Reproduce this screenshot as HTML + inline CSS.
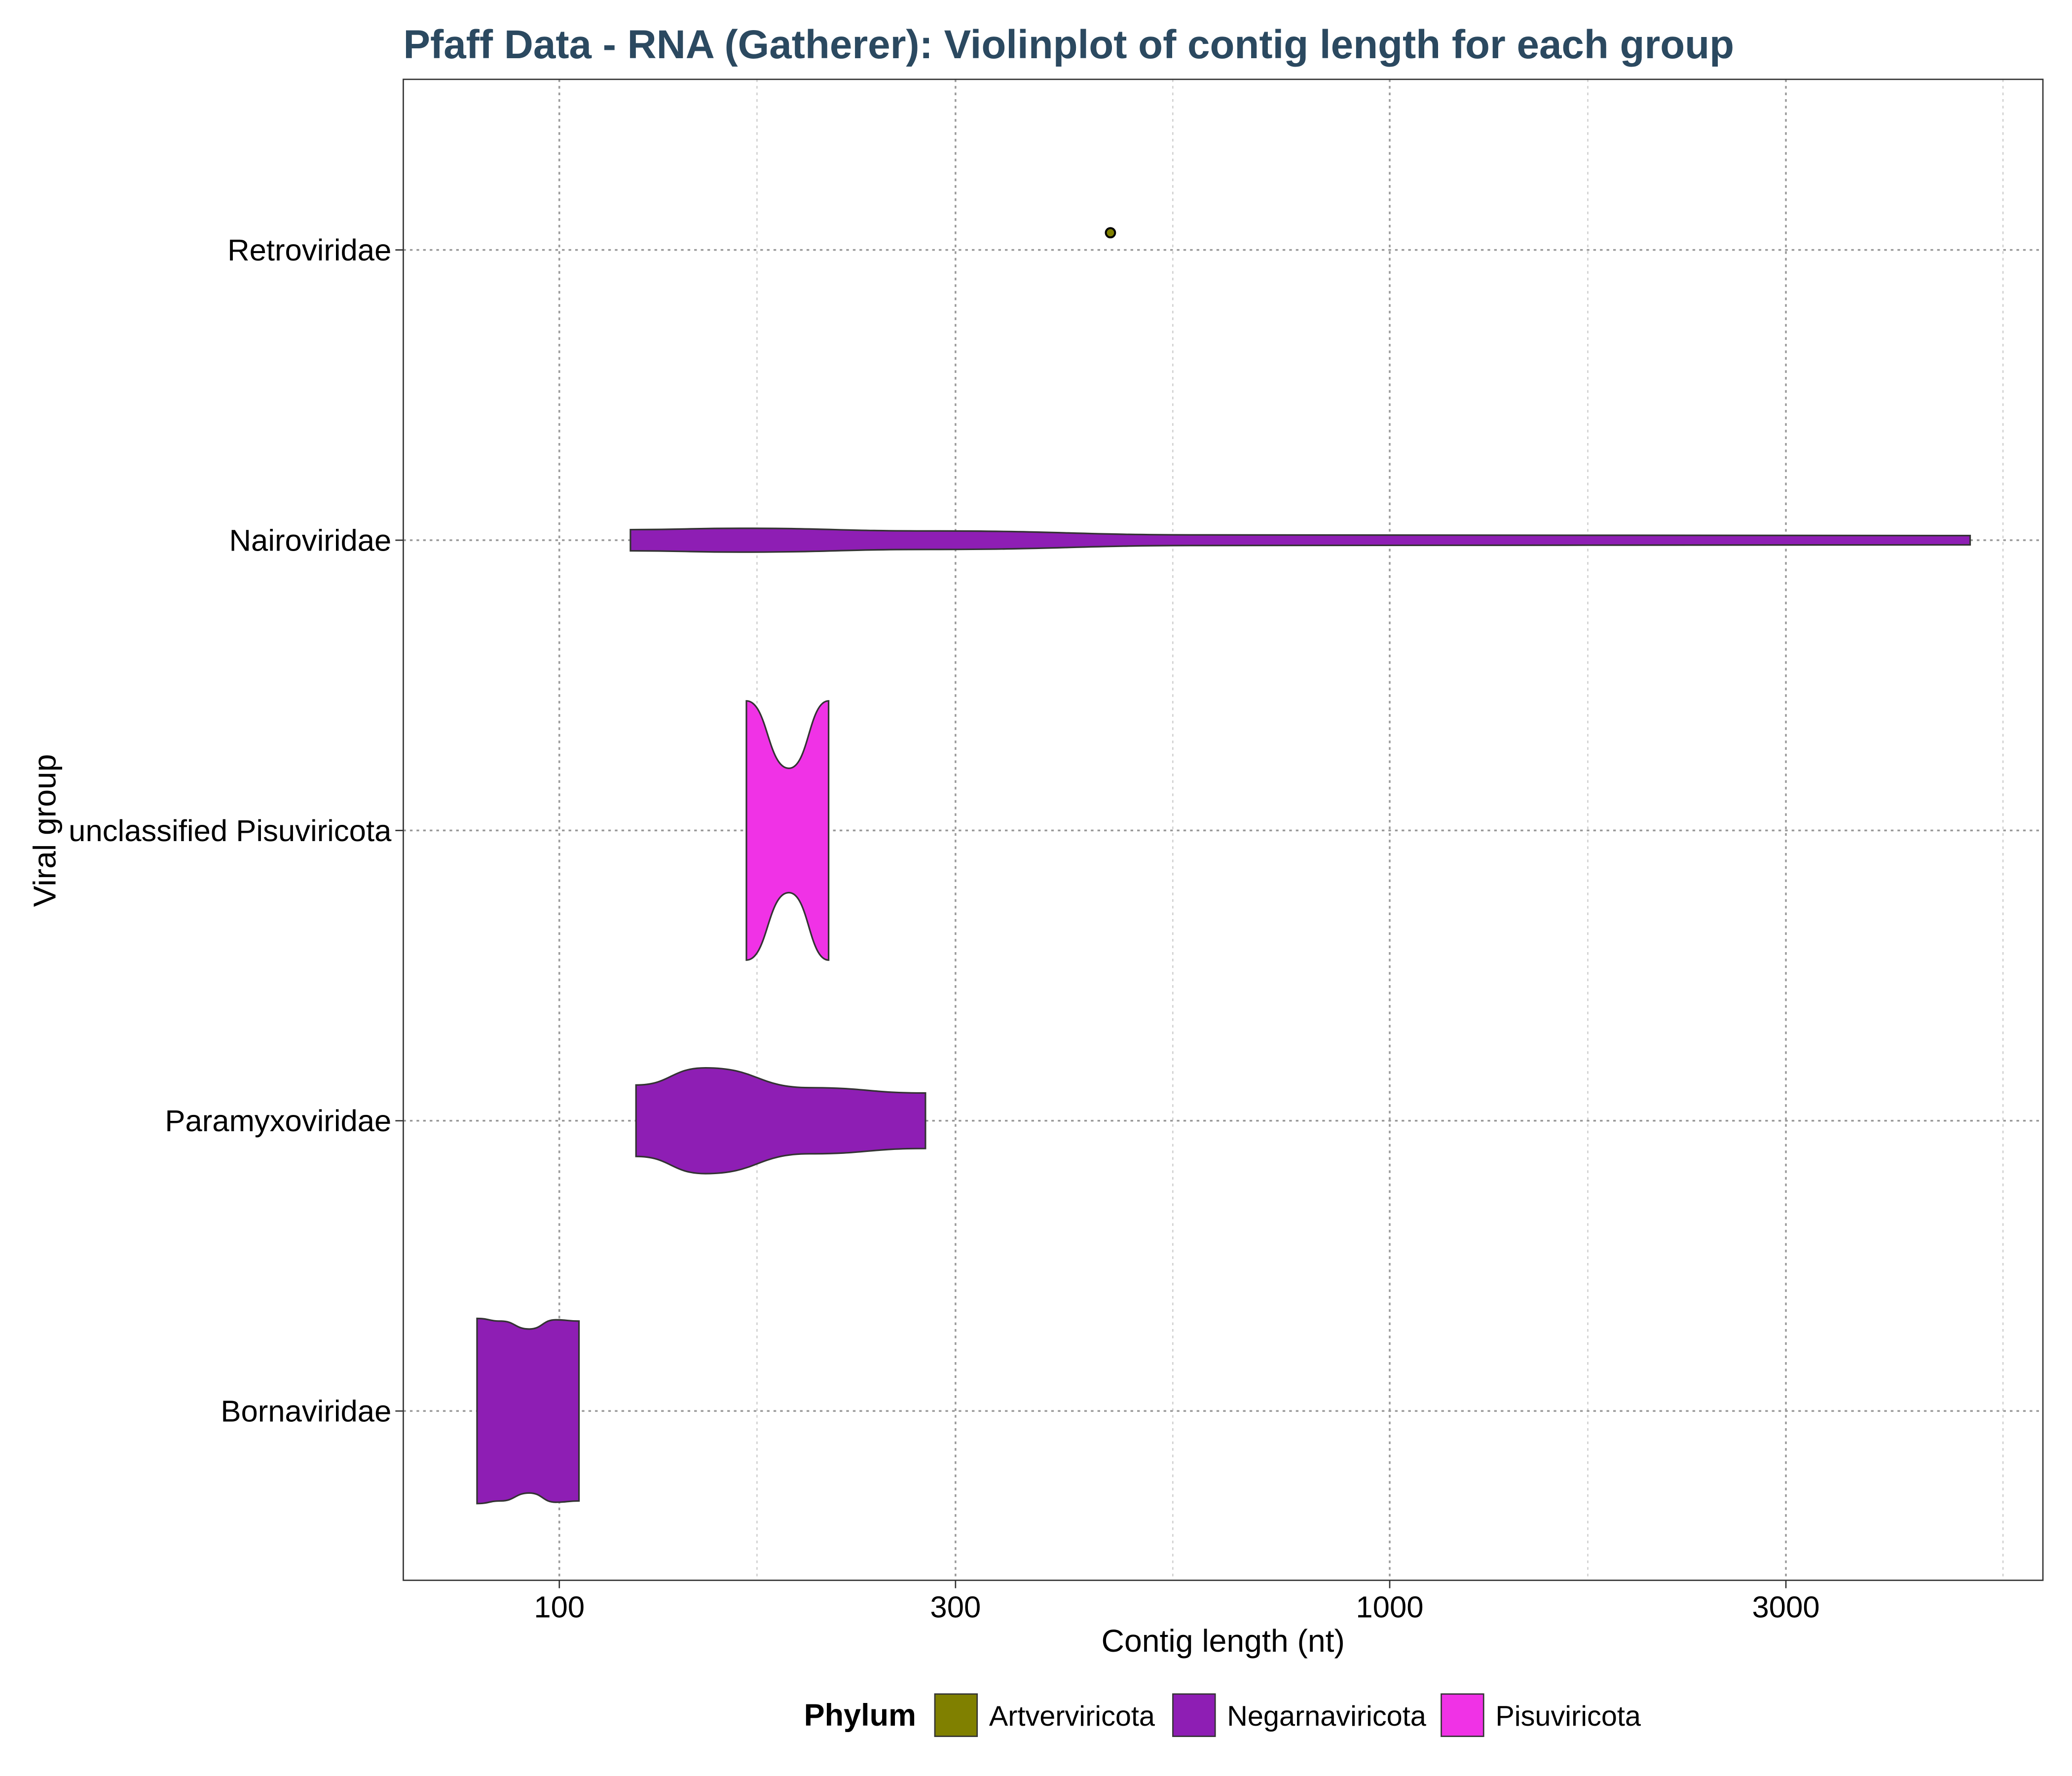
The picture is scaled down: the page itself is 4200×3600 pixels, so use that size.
<!DOCTYPE html>
<html><head><meta charset="utf-8"><style>
html,body{margin:0;padding:0;background:#fff;}
svg{display:block;font-family:"Liberation Sans",Arial,sans-serif;}
</style></head><body>
<svg id="chart" width="4200" height="3600" viewBox="0 0 1567 1343" preserveAspectRatio="none" xmlns="http://www.w3.org/2000/svg">
<rect x="0" y="0" width="1567" height="1343" fill="#fff"/>
<text x="305" y="44" font-size="30.5" font-weight="bold" fill="#2b4960">Pfaff Data - RNA (Gatherer): Violinplot of contig length for each group</text>
<g id="grid"></g>
<g id="marks"></g>
<rect x="305" y="60" width="1240" height="1135" fill="none" stroke="#333" stroke-width="1"/>
<g id="axes"></g>
<text x="925" y="1249" font-size="24" text-anchor="middle" fill="#000">Contig length (nt)</text>
<text transform="translate(42,628) rotate(-90)" font-size="24" text-anchor="middle" fill="#000">Viral group</text>
<g id="legend">
<text x="608" y="1305" font-size="23.5" font-weight="bold">Phylum</text>
<rect x="707" y="1281" width="32" height="32" fill="#808000" stroke="#333"/>
<text x="748" y="1305" font-size="21.5">Artverviricota</text>
<rect x="887" y="1281" width="32" height="32" fill="#8e1eb4" stroke="#333"/>
<text x="928" y="1305" font-size="21.5">Negarnaviricota</text>
<rect x="1090" y="1281" width="32" height="32" fill="#f032e6" stroke="#333"/>
<text x="1131" y="1305" font-size="21.5">Pisuviricota</text>
</g>
</svg>
<script>
const categories = ["Bornaviridae","Paramyxoviridae","unclassified Pisuviricota","Nairoviridae","Retroviridae"];
const xTicks = [100,300,1000,3000];
const xMinor = [173,548,1732,5477];
// violin profiles: contig lengths and relative density (half-width)
const bornaLen = [79.6,85,92,99,105.6];
const bornaDen = [70,68,62,69,68];
const paramyxoLen = [123.7,150,200,276];
const paramyxoDen = [27,40,25,21];
const pisuLen = [168,189,211];
const pisuDen = [98,47,98];
const nairoLen = [121.8,165,280,600,5000];
const nairoDen = [8,9,7,4,3.5];
const retroPoint = [461];
const violinLen = [bornaLen,paramyxoLen,pisuLen,nairoLen];
const violinDen = [bornaDen,paramyxoDen,pisuDen,nairoDen];
const violinFill = ["#8e1eb4","#8e1eb4","#f032e6","#8e1eb4"];

const NS="http://www.w3.org/2000/svg";
const x = v => 423 + (Math.log10(v)-2)*628;
const y = i => 1067 - i*219.5;
function mk(tag,attrs,parent){const e=document.createElementNS(NS,tag);for(const k in attrs)e.setAttribute(k,attrs[k]);parent.appendChild(e);return e;}
const grid=document.getElementById('grid'), marks=document.getElementById('marks'), axes=document.getElementById('axes');
xMinor.forEach(v=>{const l=mk('line',{x1:x(v),x2:x(v),y1:60,y2:1195,stroke:'#d0d0d0','stroke-dasharray':'2,3','stroke-width':1},grid);

});
xTicks.forEach(v=>{const l=mk('line',{x1:x(v),x2:x(v),y1:60,y2:1195,stroke:'#999','stroke-dasharray':'2,3','stroke-width':1.3},grid);


const t=mk('line',{x1:x(v),x2:x(v),y1:1195,y2:1201,stroke:'#333'},axes);


const tx=mk('text',{x:x(v),y:1223,'font-size':23,'text-anchor':'middle'},axes);tx.textContent=v;

});
categories.forEach((c,i)=>{const l=mk('line',{x1:305,x2:1545,y1:y(i),y2:y(i),stroke:'#999','stroke-dasharray':'2,3','stroke-width':1.3},grid);


const t=mk('line',{x1:299,x2:305,y1:y(i),y2:y(i),stroke:'#333'},axes);


const tx=mk('text',{x:296,y:y(i)+8,'font-size':23,'text-anchor':'end'},axes);tx.textContent=c;

});
function smooth(pts){let d='M'+pts[0][0]+','+pts[0][1];for(let k=1;k<pts.length;k++){const p0=pts[k-1],p1=pts[k];const mx=(p0[0]+p1[0])/2;d+=' C'+mx+','+p0[1]+' '+mx+','+p1[1]+' '+p1[0]+','+p1[1];}return d;}
violinLen.forEach((lens,i)=>{const dens=violinDen[i];const cy=y(i);
const top=lens.map((v,k)=>[x(v),cy-dens[k]]);const bot=lens.map((v,k)=>[x(v),cy+dens[k]]).reverse();
let d=smooth(top)+' L'+bot[0][0]+','+bot[0][1]+smooth(bot).replace(/^M[^ ]+/,'')+' Z';
const p=mk('path',{d:d,fill:violinFill[i],stroke:'#333','stroke-width':1.2},marks);

});
retroPoint.forEach(v=>{const c=mk('circle',{cx:x(v),cy:y(4)-13,r:3.5,fill:'#808000',stroke:'#000','stroke-width':1.5},marks);

});
</script>
</body></html>
